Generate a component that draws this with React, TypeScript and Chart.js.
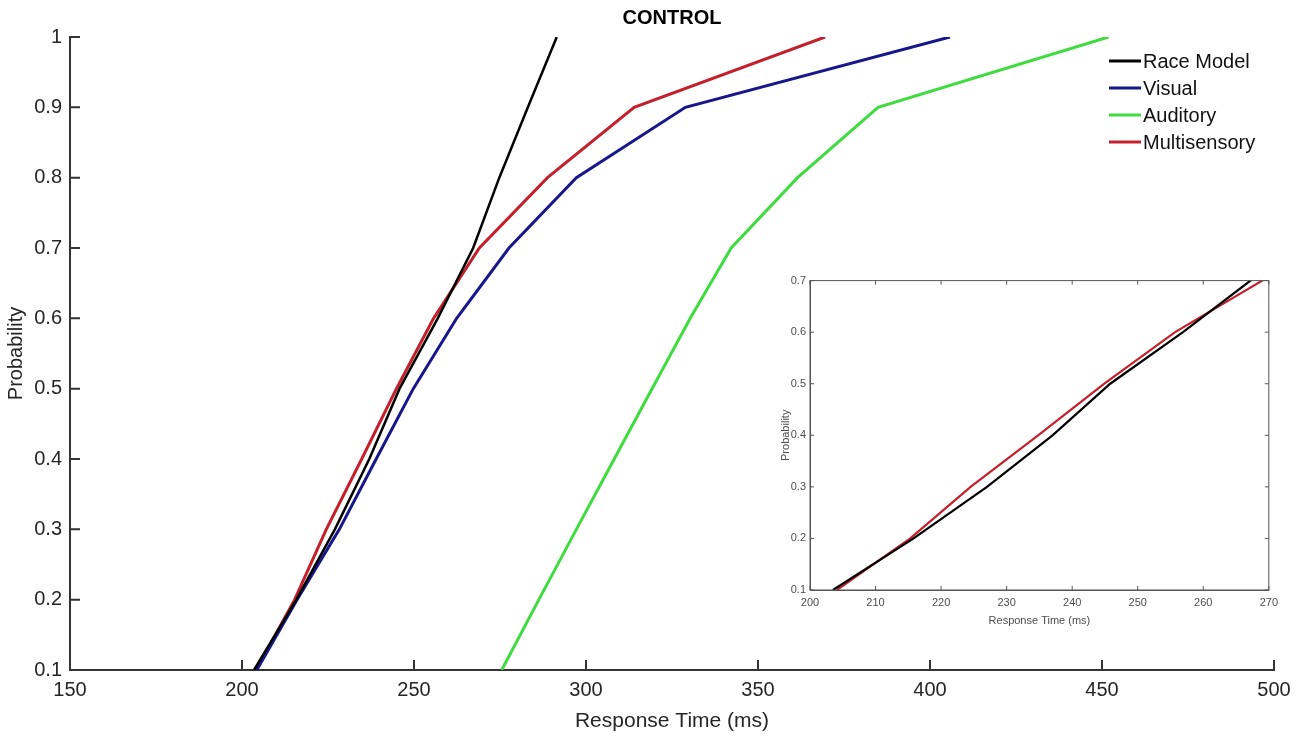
import { useEffect, useRef } from "react"
import { Chart, registerables } from "chart.js"

Chart.register(...registerables)

// decile probabilities (y) and response times in ms (x) for each curve
const probs = [0.1, 0.2, 0.3, 0.4, 0.5, 0.6, 0.7, 0.8, 0.9, 1.0]
const raceModel = [203.5, 215.8, 227.0, 237.0, 245.8, 256.9, 267.2, 274.8, 283.1, 291.5]
const visual = [204.3, 216.0, 228.3, 239.0, 249.8, 262.4, 277.6, 297.2, 328.9, 405.8]
const auditory = [275.5, 286.3, 297.2, 308.2, 319.2, 330.3, 342.2, 361.5, 384.9, 451.9]
const multisensory = [204.1, 215.3, 224.5, 234.8, 244.9, 255.7, 269.0, 288.8, 314.0, 369.5]

const seriesNames = ["Race Model", "Visual", "Auditory", "Multisensory"]
const seriesColors = ["#000000", "#17178c", "#3fdc3f", "#c4202b"]

const xTicks = [150, 200, 250, 300, 350, 400, 450, 500]
const yTicks = [0.1, 0.2, 0.3, 0.4, 0.5, 0.6, 0.7, 0.8, 0.9, 1]
const insetXTicks = [200, 210, 220, 230, 240, 250, 260, 270]
const insetYTicks = [0.1, 0.2, 0.3, 0.4, 0.5, 0.6, 0.7]

const FONT = "'Liberation Sans', Arial, sans-serif"

const toPoints = (rt: number[]) => rt.map((x, i) => ({ x, y: probs[i] }))
const fmt = (v: number) => Number(v).toFixed(1).replace(/\.0$/, "")

// inward tick marks, optional box
const innerTicks = (len: number, color: string, width: number, box: boolean) => ({
  id: "innerTicks",
  afterDraw(chart: any) {
    const { ctx, chartArea: a } = chart
    const xs = chart.scales.x
    const ys = chart.scales.y
    ctx.save()
    ctx.strokeStyle = color
    ctx.lineWidth = width
    ctx.beginPath()
    xs.ticks.forEach((t: any) => {
      const px = xs.getPixelForValue(t.value)
      ctx.moveTo(px, a.bottom)
      ctx.lineTo(px, a.bottom - len)
      if (box) {
        ctx.moveTo(px, a.top)
        ctx.lineTo(px, a.top + len)
      }
    })
    ys.ticks.forEach((t: any) => {
      const py = ys.getPixelForValue(t.value)
      ctx.moveTo(a.left, py)
      ctx.lineTo(a.left + len, py)
      if (box) {
        ctx.moveTo(a.right, py)
        ctx.lineTo(a.right - len, py)
      }
    })
    ctx.stroke()
    if (box) {
      ctx.lineWidth = 1
      ctx.strokeRect(a.left, a.top, a.right - a.left, a.bottom - a.top)
    }
    ctx.restore()
  },
})

const titleAndLegend = {
  id: "titleAndLegend",
  afterDraw(chart: any) {
    const { ctx, chartArea: a } = chart
    ctx.save()
    ctx.fillStyle = "#000"
    ctx.font = `bold 20px ${FONT}`
    ctx.textAlign = "center"
    ctx.textBaseline = "middle"
    ctx.fillText("CONTROL", (a.left + a.right) / 2, 18)

    ctx.font = `20px ${FONT}`
    ctx.textAlign = "left"
    chart.data.datasets.forEach((ds: any, i: number) => {
      const y = 61 + i * 27
      ctx.strokeStyle = ds.borderColor
      ctx.lineWidth = 3
      ctx.beginPath()
      ctx.moveTo(1109, y)
      ctx.lineTo(1141, y)
      ctx.stroke()
      ctx.fillStyle = "#111"
      ctx.fillText(ds.label, 1143, y + 1)
    })
    ctx.restore()
  },
}

function MainChart() {
  const ref = useRef<HTMLCanvasElement>(null)
  useEffect(() => {
    if (!ref.current) return
    const series = [raceModel, visual, auditory, multisensory]
    const chart = new Chart(ref.current, {
      type: "line",
      data: {
        datasets: series.map((rt, i) => ({
          label: seriesNames[i],
          data: toPoints(rt),
          borderColor: seriesColors[i],
          borderWidth: i === 0 ? 2.5 : 3,
          pointRadius: 0,
          tension: 0,
        })),
      },
      options: {
        responsive: false,
        animation: false,
        events: [],
        layout: { padding: { top: 37, right: 26, left: 0, bottom: 0 } },
        plugins: { legend: { display: false }, tooltip: { enabled: false } },
        scales: {
          x: {
            type: "linear",
            min: 150,
            max: 500,
            afterBuildTicks: (s: any) => {
              s.ticks = xTicks.map((value) => ({ value }))
            },
            afterFit: (s: any) => {
              s.height = 70
            },
            grid: { display: false, drawTicks: false },
            border: { display: true, color: "#333", width: 2 },
            ticks: { color: "#262626", font: { family: FONT, size: 20 }, padding: 8, maxRotation: 0 },
            title: {
              display: true,
              text: "Response Time (ms)",
              color: "#262626",
              font: { family: FONT, size: 21 },
              padding: { top: 0, bottom: 6 },
            },
          },
          y: {
            type: "linear",
            min: 0.1,
            max: 1,
            afterBuildTicks: (s: any) => {
              s.ticks = yTicks.map((value) => ({ value }))
            },
            afterFit: (s: any) => {
              s.width = 70
            },
            grid: { display: false, drawTicks: false },
            border: { display: true, color: "#333", width: 2 },
            ticks: {
              color: "#262626",
              font: { family: FONT, size: 20 },
              padding: 8,
              callback: (v: any) => fmt(v),
            },
            title: {
              display: true,
              text: "Probability",
              color: "#262626",
              font: { family: FONT, size: 20 },
              padding: { top: 4, bottom: 0 },
            },
          },
        },
      },
      plugins: [innerTicks(10, "#333", 2, false), titleAndLegend],
    })
    return () => chart.destroy()
  }, [])
  return <canvas ref={ref} width={1300} height={740} style={{ position: "absolute", left: 0, top: 0 }} />
}

function InsetChart() {
  const ref = useRef<HTMLCanvasElement>(null)
  useEffect(() => {
    if (!ref.current) return
    const series = [raceModel, multisensory]
    const colors = [seriesColors[0], seriesColors[3]]
    const chart = new Chart(ref.current, {
      type: "line",
      data: {
        datasets: series.map((rt, i) => ({
          label: i === 0 ? seriesNames[0] : seriesNames[3],
          data: toPoints(rt),
          borderColor: colors[i],
          borderWidth: 2.2,
          pointRadius: 0,
          tension: 0,
        })),
      },
      options: {
        responsive: false,
        animation: false,
        events: [],
        layout: { padding: { top: 9, right: 7, left: 0, bottom: 0 } },
        plugins: { legend: { display: false }, tooltip: { enabled: false } },
        scales: {
          x: {
            type: "linear",
            min: 200,
            max: 270,
            afterBuildTicks: (s: any) => {
              s.ticks = insetXTicks.map((value) => ({ value }))
            },
            afterFit: (s: any) => {
              s.height = 45
            },
            grid: { display: false, drawTicks: false },
            border: { display: true, color: "#555", width: 1 },
            ticks: { color: "#4d4d4d", font: { family: FONT, size: 11 }, padding: 6, maxRotation: 0 },
            title: {
              display: true,
              text: "Response Time (ms)",
              color: "#4d4d4d",
              font: { family: FONT, size: 11 },
              padding: { top: 0, bottom: 7 },
            },
          },
          y: {
            type: "linear",
            min: 0.1,
            max: 0.7,
            afterBuildTicks: (s: any) => {
              s.ticks = insetYTicks.map((value) => ({ value }))
            },
            afterFit: (s: any) => {
              s.width = 35
            },
            grid: { display: false, drawTicks: false },
            border: { display: true, color: "#555", width: 1 },
            ticks: {
              color: "#4d4d4d",
              font: { family: FONT, size: 11 },
              padding: 4,
              callback: (v: any) => fmt(v),
            },
            title: {
              display: true,
              text: "Probability",
              color: "#4d4d4d",
              font: { family: FONT, size: 11 },
              padding: { top: 4, bottom: 0 },
            },
          },
        },
      },
      plugins: [innerTicks(4, "#555", 1, true)],
    })
    return () => chart.destroy()
  }, [])
  return (
    <canvas
      ref={ref}
      width={509}
      height={365}
      style={{ position: "absolute", left: 775, top: 270, background: "#fff" }}
    />
  )
}

export default function App() {
  return (
    <div style={{ position: "absolute", left: 0, top: 0, width: 1300, height: 740, background: "#fff" }}>
      <MainChart />
      <InsetChart />
    </div>
  )
}
